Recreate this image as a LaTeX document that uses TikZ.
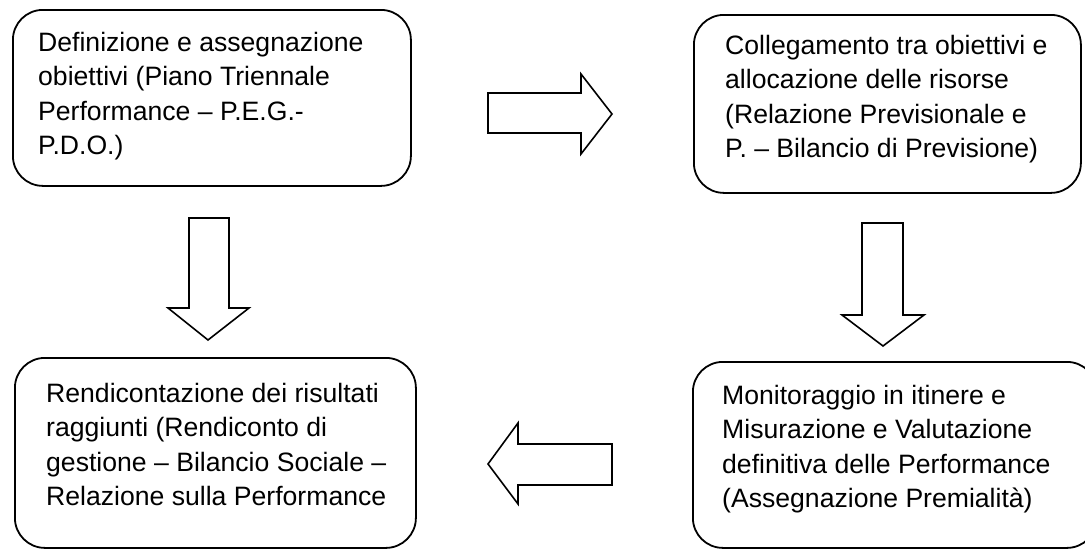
\documentclass[tikz,border=0pt]{standalone}
\usepackage{fontspec}
\setmainfont{Liberation Sans}
\tikzset{
  stage/.style={draw, line width=1.8pt, rounded corners=30pt, anchor=north west, inner sep=0pt},
  stagetext/.style={anchor=north west, inner sep=0pt, align=left,
    font=\fontsize{26.6}{34.5}\selectfont},
  hollow/.style={draw, line width=1.6pt, fill=white, line join=miter}
}
\begin{document}
\begin{tikzpicture}[x=1pt,y=-1pt]
		\useasboundingbox (0,0) rectangle (1085,549);
		% boxes
		\node[stage, minimum width=398pt, minimum height=176pt] (B1) at (12,9) {};
		\node[stage, minimum width=387pt, minimum height=178pt] (B2) at (693,14) {};
		\node[stage, minimum width=401pt, minimum height=190pt] (B3) at (14,357) {};
		\node[stage, minimum width=404pt, minimum height=186pt] (B4) at (692,361) {};
		% texts
		\node[stagetext] (T1) at (38,32) {Definizione e assegnazione\\obiettivi (Piano Triennale\\Performance -- P.E.G.-\\P.D.O.)};
		\node[stagetext] (T2) at (725,35) {Collegamento tra obiettivi e\\allocazione delle risorse\\(Relazione Previsionale e\\P. -- Bilancio di Previsione)};
		\node[stagetext] (T3) at (46,383) {Rendicontazione dei risultati\\raggiunti (Rendiconto di\\gestione -- Bilancio Sociale --\\Relazione sulla Performance};
		\node[stagetext] (T4) at (722,385) {Monitoraggio in itinere e\\Misurazione e Valutazione\\definitiva delle Performance\\(Assegnazione Premialità)};
		% block arrows
		\draw[hollow] (488,93) -- (581,93) -- (581,74) -- (612,114) -- (581,154) -- (581,133) -- (488,133) -- cycle;
		\draw[hollow] (862,223) -- (903,223) -- (903,315) -- (924,315) -- (883,346) -- (842,315) -- (862,315) -- cycle;
		\draw[hollow] (612,444) -- (518,444) -- (518,423) -- (488,464) -- (518,504) -- (518,485) -- (612,485) -- cycle;
		\draw[hollow] (189,218) -- (229,218) -- (229,308) -- (249,308) -- (208,340) -- (168,308) -- (189,308) -- cycle;
\end{tikzpicture}
\end{document}
